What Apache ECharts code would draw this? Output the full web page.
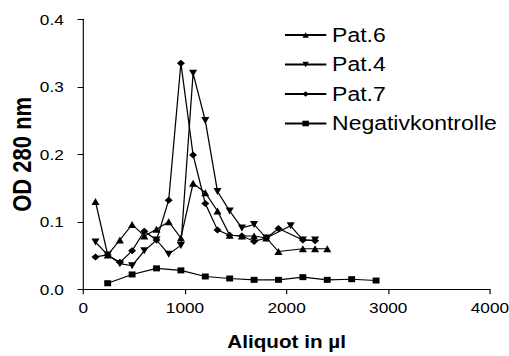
<!DOCTYPE html>
<html>
<head>
<meta charset="utf-8">
<script src="https://cdn.jsdelivr.net/npm/echarts@6/dist/echarts.min.js"></script>
<style>
  html, body { margin: 0; padding: 0; background: #fff; overflow: hidden; }
  #wrap { width: 509px; height: 356px; overflow: hidden; }
  #chart { width: 443px; height: 356px; transform: scaleX(1.149); transform-origin: 0 0; }
</style>
</head>
<body>
<div id="wrap"><div id="chart"></div></div>
<script>
// ---- data ----
const seriesNames = ['Pat.6', 'Pat.4', 'Pat.7', 'Negativkontrolle'];

const pat6X = [120, 240, 360, 480, 600, 720, 840, 960, 1080, 1200, 1320, 1440, 1560, 1680, 1800, 1920, 2160, 2280, 2400];
const pat6Y = [0.130, 0.051, 0.073, 0.096, 0.079, 0.089, 0.100, 0.076, 0.157, 0.143, 0.116, 0.080, 0.079, 0.079, 0.076, 0.056, 0.060, 0.060, 0.060];

const pat4X = [120, 240, 360, 480, 600, 720, 840, 960, 1080, 1200, 1320, 1440, 1560, 1680, 1800, 2040, 2160, 2280];
const pat4Y = [0.070, 0.051, 0.038, 0.035, 0.057, 0.073, 0.052, 0.065, 0.320, 0.250, 0.145, 0.116, 0.091, 0.096, 0.076, 0.094, 0.073, 0.073];

const pat7X = [120, 240, 360, 480, 600, 720, 840, 960, 1080, 1200, 1320, 1440, 1560, 1680, 1800, 1920, 2160, 2280];
const pat7Y = [0.048, 0.051, 0.040, 0.057, 0.086, 0.073, 0.132, 0.335, 0.199, 0.127, 0.088, 0.080, 0.079, 0.071, 0.076, 0.090, 0.073, 0.072];

const negX = [240, 480, 720, 960, 1200, 1440, 1680, 1920, 2160, 2400, 2640, 2880];
const negY = [0.009, 0.022, 0.031, 0.028, 0.019, 0.016, 0.014, 0.014, 0.018, 0.014, 0.015, 0.013];

const xTicks = { min: 0, max: 4000, interval: 1000 };
const yTicks = { min: 0, max: 0.4, interval: 0.1 };
const xTitle = 'Aliquot in µl';
const yTitle = 'OD 280 nm';

// ---- chart ----
const FONT = '"Liberation Sans", Arial, sans-serif';
const zip = (xs, ys) => xs.map((x, i) => [x, ys[i]]);

function lineSeries(name, data, symbol, size, rotate) {
  return {
    name: name,
    type: 'line',
    data: data,
    symbol: symbol,
    symbolSize: size,
    symbolRotate: rotate || 0,
    showAllSymbol: true,
    lineStyle: { color: '#000', width: 1.1 },
    itemStyle: { color: '#000', borderWidth: 0 },
    emphasis: { disabled: true },
    animation: false
  };
}

const chart = echarts.init(document.getElementById('chart'), null, { renderer: 'svg' });
chart.setOption({
  backgroundColor: '#fff',
  animation: false,
  grid: { left: 72.5, right: 16.6, top: 19.3, bottom: 66.7, containLabel: false, outerBoundsMode: 'none' },
  legend: {
    orient: 'vertical',
    left: 242,
    top: 20,
    itemWidth: 36,
    itemHeight: 7,
    itemGap: 9.5,
    data: seriesNames,
    textStyle: { fontSize: 20, color: '#000', fontFamily: FONT },
    selectedMode: false
  },
  xAxis: {
    type: 'value',
    min: xTicks.min, max: xTicks.max, interval: xTicks.interval,
    name: xTitle,
    nameLocation: 'middle',
    nameGap: 43,
    nameMoveOverlap: false,
    nameTextStyle: { fontSize: 18, fontWeight: 'bold', color: '#000', fontFamily: FONT },
    axisLine: { show: true, onZero: false, lineStyle: { color: '#000', width: 1 } },
    axisTick: { show: true, inside: false, length: 5, lineStyle: { color: '#000' } },
    axisLabel: { fontSize: 15, color: '#000', margin: 11, fontFamily: FONT,
                 formatter: v => String(v) },
    splitLine: { show: false }
  },
  yAxis: {
    type: 'value',
    min: yTicks.min, max: yTicks.max, interval: yTicks.interval,
    name: yTitle,
    nameLocation: 'middle',
    nameGap: 42,
    nameMoveOverlap: false,
    nameRotate: 90,
    nameTextStyle: { fontSize: 22, fontWeight: 'bold', color: '#000', fontFamily: FONT },
    axisLine: { show: true, onZero: false, lineStyle: { color: '#000', width: 1 } },
    axisTick: { show: true, inside: false, length: 5, lineStyle: { color: '#000' } },
    axisLabel: { fontSize: 15, color: '#000', margin: 17, fontFamily: FONT,
                 formatter: v => v.toFixed(1) },
    splitLine: { show: false }
  },
  series: [
    lineSeries(seriesNames[0], zip(pat6X, pat6Y), 'triangle', 7, 0),
    lineSeries(seriesNames[1], zip(pat4X, pat4Y), 'triangle', 7, 180),
    lineSeries(seriesNames[2], zip(pat7X, pat7Y), 'diamond', 7, 0),
    lineSeries(seriesNames[3], zip(negX, negY), 'rect', 6, 0)
  ]
});
</script>
</body>
</html>
